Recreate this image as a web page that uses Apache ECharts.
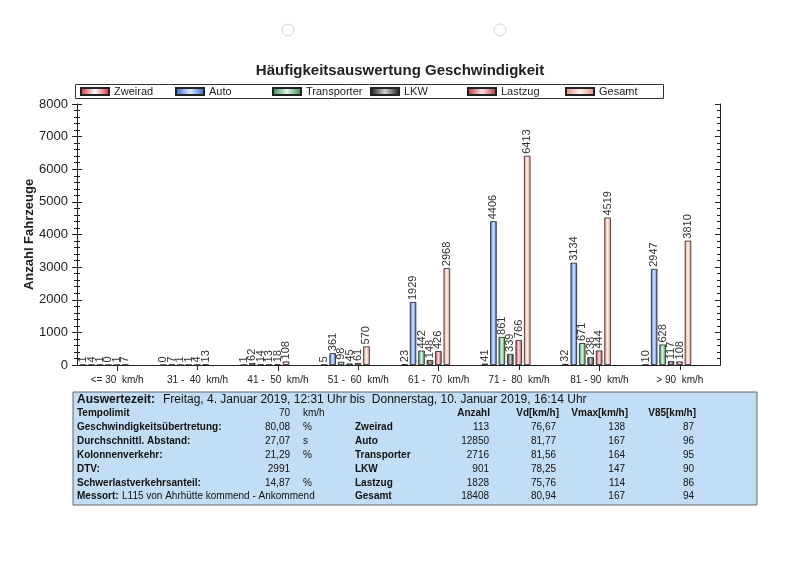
<!DOCTYPE html>
<html><head><meta charset="utf-8">
<script src="https://cdn.jsdelivr.net/npm/echarts@6/dist/echarts.min.js"></script>
<style>html,body{margin:0;padding:0;background:#fff}#c{width:800px;height:566px}</style>
</head><body><div id="c"></div>
<script>
// ---- chart data ----
const categories = ['<= 30  km/h', '31 -  40  km/h', '41 -  50  km/h', '51 -  60  km/h', '61 -  70  km/h', '71 -  80  km/h', '81 - 90  km/h', '> 90  km/h'];
const zweirad     = [1, 0, 1, 5, 23, 41, 32, 10];
const auto        = [4, 7, 62, 361, 1929, 4406, 3134, 2947];
const transporter = [1, 1, 14, 98, 442, 861, 671, 628];
const lkw         = [0, 1, 13, 45, 148, 339, 238, 117];
const lastzug     = [1, 4, 18, 61, 426, 766, 444, 108];
const gesamt      = [7, 13, 108, 570, 2968, 6413, 4519, 3810];
const seriesNames = ['Zweirad', 'Auto', 'Transporter', 'LKW', 'Lastzug', 'Gesamt'];
const yMin = 0, yMax = 8000, yInterval = 1000;

// ---- table data ----
const periodLabel = 'Auswertezeit:';
const periodText = 'Freitag, 4. Januar 2019, 12:31 Uhr bis  Donnerstag, 10. Januar 2019, 16:14 Uhr';
const metaLabels = ['Tempolimit', 'Geschwindigkeitsübertretung:', 'Durchschnittl. Abstand:', 'Kolonnenverkehr:', 'DTV:', 'Schwerlastverkehrsanteil:'];
const metaValues = ['70', '80,08', '27,07', '21,29', '2991', '14,87'];
const metaUnits  = ['km/h', '%', 's', '%', '', '%'];
const tableHeaders = ['Anzahl', 'Vd[km/h]', 'Vmax[km/h]', 'V85[km/h]'];
const classNames = ['Zweirad', 'Auto', 'Transporter', 'LKW', 'Lastzug', 'Gesamt'];
const anzahl = ['113', '12850', '2716', '901', '1828', '18408'];
const vd     = ['76,67', '81,77', '81,56', '78,25', '75,76', '80,94'];
const vmax   = ['138', '167', '164', '147', '114', '167'];
const v85    = ['87', '96', '95', '90', '86', '94'];
const messortLabel = 'Messort:';
const messortText = 'L115 von Ahrhütte kommend - Ankommend';

const FONT = '"Liberation Sans", Arial, sans-serif';
const chart = echarts.init(document.getElementById('c'));

function grad(edge, mid) {
  return new echarts.graphic.LinearGradient(0, 0, 1, 0, [
    { offset: 0, color: edge }, { offset: 0.5, color: mid }, { offset: 1, color: edge }
  ]);
}
const styles = [
  grad('#d0283a', '#ffffff'),
  grad('#2a62c8', '#dbe9ff'),
  grad('#2f8a4a', '#e3f3e6'),
  grad('#161616', '#cfcfcf'),
  grad('#b8303e', '#fadfe2'),
  grad('#e68b7c', '#fff4f0')
];
const dataSets = [zweirad, auto, transporter, lkw, lastzug, gesamt];

const series = dataSets.map((d, i) => ({
  name: seriesNames[i],
  type: 'bar',
  data: d,
  barWidth: 6.5,
  barGap: '30%',
  itemStyle: { color: styles[i], borderColor: '#222', borderWidth: 0.8 },
  label: {
    show: true, position: 'top', rotate: 90, align: 'left', verticalAlign: 'middle',
    distance: 2, fontSize: 11, color: '#333', fontFamily: FONT
  },
  emphasis: { disabled: true }
}));
// empty spacer column that shifts each bar group left of its tick, as in the reference
series.push({ name: '_spacer', type: 'bar', data: [], barWidth: 24, barGap: '30%', silent: true });

// ---- legend: one entry per fixed slot, inside a framed box ----
const legendLeft = [80, 175, 272, 370, 467, 565];
const legends = seriesNames.map((n, i) => ({
  data: [n], left: legendLeft[i], top: 86, padding: 0,
  itemWidth: 28, itemHeight: 7, itemGap: 0, icon: 'rect', selectedMode: false,
  textStyle: { fontSize: 11, color: '#222', fontFamily: FONT }
}));

// ---- table graphics ----
const g = [];
const txt = (text, x, y, opts) => {
  opts = opts || {};
  g.push({
    type: 'text', silent: true,
    style: {
      text: text, x: x, y: y,
      font: (opts.bold ? 'bold ' : '') + (opts.size || 10) + 'px ' + FONT,
      fill: '#111', align: opts.align || 'left', verticalAlign: 'middle',
      textAlign: opts.align || 'left', textVerticalAlign: 'middle'
    }
  });
};
g.push({ type: 'rect', silent: true, shape: { x: 75.5, y: 84.5, width: 588, height: 14 },
  style: { fill: 'none', stroke: '#333', lineWidth: 1 } });
g.push({ type: 'rect', silent: true, shape: { x: 73, y: 392, width: 684, height: 113 },
  style: { fill: '#c2ddf6', stroke: '#666', lineWidth: 1 } });
g.push({ type: 'circle', silent: true, shape: { cx: 288, cy: 30, r: 6 }, style: { fill: 'none', stroke: '#d4d4d4', lineWidth: 1 } });
g.push({ type: 'circle', silent: true, shape: { cx: 500, cy: 30, r: 6 }, style: { fill: 'none', stroke: '#d4d4d4', lineWidth: 1 } });

txt(periodLabel, 77, 399.5, { bold: true, size: 12 });
txt(periodText, 163, 399.5, { size: 12 });
const rowY = [413.5, 427.5, 441.5, 455.5, 469.5, 483, 496.5];
metaLabels.forEach((l, i) => {
  txt(l, 77, rowY[i], { bold: true });
  txt(metaValues[i], 290, rowY[i], { align: 'right' });
  if (metaUnits[i]) txt(metaUnits[i], 303, rowY[i]);
});
const colRight = [490, 559, 628, 696];
const valRight = [489, 556, 625, 694];
tableHeaders.forEach((h, j) => txt(h, colRight[j], rowY[0], { bold: true, align: 'right' }));
classNames.forEach((c, i) => {
  const y = rowY[i + 1];
  txt(c, 355, y, { bold: true });
  txt(anzahl[i], valRight[0], y, { align: 'right' });
  txt(vd[i], valRight[1], y, { align: 'right' });
  txt(vmax[i], valRight[2], y, { align: 'right' });
  txt(v85[i], valRight[3], y, { align: 'right' });
});
txt(messortLabel, 77, rowY[6], { bold: true });
txt(messortText, 122, rowY[6]);

const axisColor = '#222';
const baseY = { type: 'value', min: yMin, max: yMax, interval: yInterval, splitLine: { show: false } };

chart.setOption({
  animation: false,
  backgroundColor: '#fff',
  textStyle: { fontFamily: FONT },
  title: {
    text: 'Häufigkeitsauswertung Geschwindigkeit', left: 'center', top: 63, padding: 0,
    textStyle: { fontSize: 15, fontWeight: 'bold', color: '#222', fontFamily: FONT }
  },
  legend: legends,
  grid: { left: 77, right: 80, top: 104, bottom: 201, containLabel: false },
  xAxis: [
    {
      type: 'category', data: categories, position: 'bottom',
      axisLine: { show: true, lineStyle: { color: axisColor, width: 1 } },
      axisTick: { show: true, alignWithLabel: true, length: 5, lineStyle: { color: axisColor } },
      axisLabel: { interval: 0, fontSize: 10, color: '#222', margin: 10, fontFamily: FONT },
      splitLine: { show: false }
    },
    {
      type: 'category', data: categories, position: 'top',
      axisLine: { show: true, lineStyle: { color: axisColor, width: 1 } },
      axisTick: { show: true, alignWithLabel: true, inside: true, length: 6, lineStyle: { color: axisColor } },
      axisLabel: { show: false }, splitLine: { show: false }
    }
  ],
  yAxis: [
    Object.assign({}, baseY, {
      position: 'left',
      axisLine: { show: true, lineStyle: { color: axisColor, width: 1 } },
      axisTick: { show: true, length: 5, lineStyle: { color: axisColor } },
      minorTick: { show: true, splitNumber: 5, length: 3, lineStyle: { color: axisColor } },
      axisLabel: { fontSize: 13, color: '#222', margin: 9, fontFamily: FONT, formatter: v => String(v) },
      name: 'Anzahl Fahrzeuge', nameLocation: 'middle', nameGap: 41, nameMoveOverlap: false,
      nameTextStyle: { fontSize: 13, fontWeight: 'bold', color: '#222', fontFamily: FONT }
    }),
    Object.assign({}, baseY, {
      position: 'left',
      axisLine: { show: false },
      axisTick: { show: true, inside: true, length: 5, lineStyle: { color: axisColor } },
      minorTick: { show: true, splitNumber: 5, length: 3, lineStyle: { color: axisColor } },
      axisLabel: { show: false }
    }),
    Object.assign({}, baseY, {
      position: 'right',
      axisLine: { show: true, lineStyle: { color: axisColor, width: 1 } },
      axisTick: { show: true, inside: true, length: 5, lineStyle: { color: axisColor } },
      minorTick: { show: true, splitNumber: 5, length: 3, lineStyle: { color: axisColor } },
      axisLabel: { show: false }
    })
  ],
  series: series,
  graphic: g
});
</script></body></html>
